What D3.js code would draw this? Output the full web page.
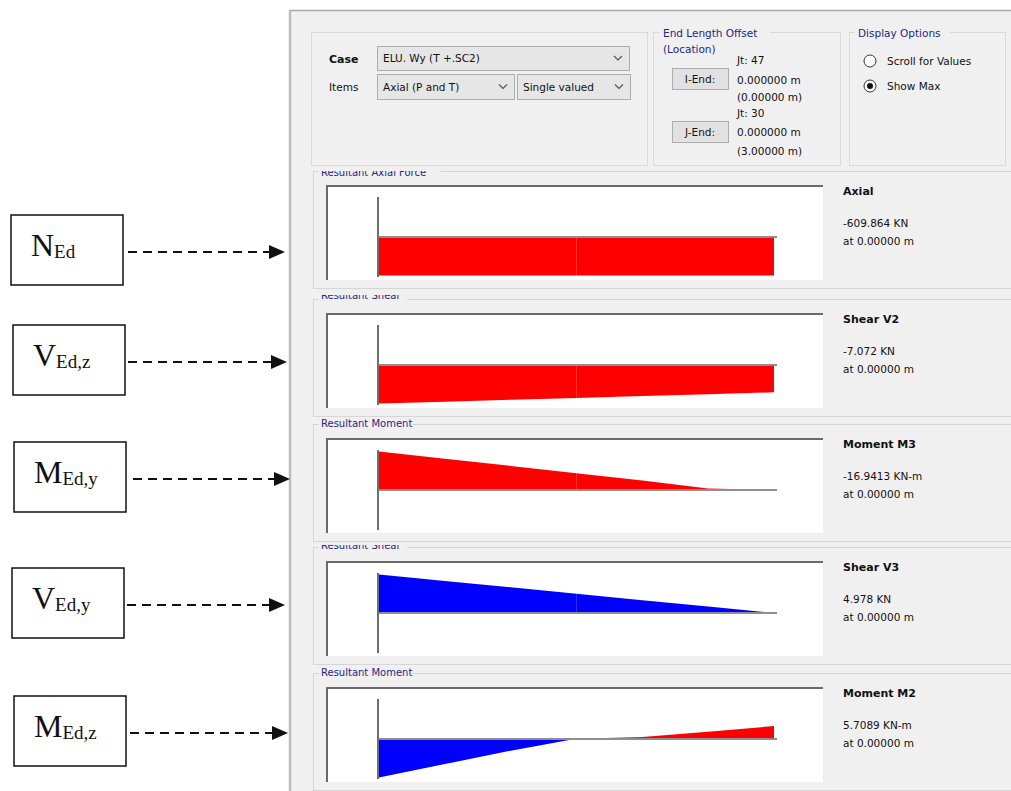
<!DOCTYPE html>
<html><head><meta charset="utf-8">
<script src="https://cdn.jsdelivr.net/npm/d3@7"></script>
<style>body{margin:0;background:#fff}svg{display:block}</style>
</head><body>
<svg id="c" width="1011" height="791"></svg>
<script>
// ---------- data ----------
const stations = [0, 0.5, 1, 1.5, 2, 2.5, 3]; // m along the member
const axialP   = [-609.864, -609.864, -609.864, -609.864, -609.864, -609.864, -609.864];
const shearV2  = [-7.072, -6.73, -6.39, -6.05, -5.70, -5.36, -5.02];
const momentM3 = [-16.9413, -13.8, -10.6, -7.4, -4.2, -0.7, 0];
const shearV3  = [4.978, 4.15, 3.32, 2.49, 1.66, 0.83, 0];
const momentM2 = [5.7089, 3.72, 1.73, -0.05, -0.30, -1.08, -1.92];
const panelTitles = ["Resultant Axial Force", "Resultant Shear", "Resultant Moment", "Resultant Shear", "Resultant Moment"];
const resultNames = ["Axial", "Shear V2", "Moment M3", "Shear V3", "Moment M2"];
const resultValues = ["-609.864 KN", "-7.072 KN", "-16.9413 KN-m", "4.978 KN", "5.7089 KN-m"];
const resultLocations = ["at 0.00000 m", "at 0.00000 m", "at 0.00000 m", "at 0.00000 m", "at 0.00000 m"];
const labelMain = ["N", "V", "M", "V", "M"];
const labelSub = ["Ed", "Ed,z", "Ed,y", "Ed,y", "Ed,z"];
const series = [axialP, shearV2, momentM3, shearV3, momentM2];

// ---------- layout ----------
const svg = d3.select("#c");
const UI = "'DejaVu Sans', sans-serif";
const NAVY = "#25258a";
const boxTops = [185, 313, 438, 561, 687];
const titleBase = [176, 299, 427, 549, 676];
const titleClip = [171, 295, null, 545, null];
const boxH = 95, boxX = 326, boxW = 497;
const baseOff = 52;
const plotDir = [-1, -1, 1, -1, 1]; // moments drawn on tension side
const xScale = d3.scaleLinear().domain([0, 3]).range([379, 774]);

// window background
svg.append("rect").attr("x", 289).attr("y", 10).attr("width", 722).attr("height", 781).attr("fill", "#f0f0f0");
svg.append("line").attr("x1", 289).attr("x2", 1011).attr("y1", 10.5).attr("y2", 10.5).attr("stroke", "#a8a8a8").attr("stroke-width", 1.5);
svg.append("line").attr("x1", 290).attr("x2", 290).attr("y1", 10).attr("y2", 791).attr("stroke", "#bdbdbd").attr("stroke-width", 2.5);

// top group boxes
function groupBox(x, y, w, h) {
  svg.append("rect").attr("x", x + 0.5).attr("y", y + 0.5).attr("width", w).attr("height", h)
    .attr("fill", "none").attr("stroke", "#d9d9d9");
}
groupBox(311, 32, 336, 133);
groupBox(653, 32, 187, 133);
groupBox(849, 32, 156, 133);

function txt(x, y, s, opt = {}) {
  return svg.append("text").attr("x", x).attr("y", y).text(s)
    .attr("font-family", opt.family || UI).attr("font-size", opt.size || 11)
    .attr("font-weight", opt.weight || "normal").attr("fill", opt.fill || "#111")
    .attr("text-anchor", opt.anchor || "start");
}
function chevron(cx, cy) {
  svg.append("path").attr("d", `M${cx - 4},${cy - 2} L${cx},${cy + 2} L${cx + 4},${cy - 2}`)
    .attr("fill", "none").attr("stroke", "#555").attr("stroke-width", 1.2);
}
function dropdown(x, y, w, h, s) {
  svg.append("rect").attr("x", x + 0.5).attr("y", y + 0.5).attr("width", w).attr("height", h)
    .attr("fill", "#e6e6e6").attr("stroke", "#adadad");
  txt(x + 6, y + h / 2 + 4, s, {size: 10.5});
  chevron(x + w - 11, y + h / 2);
}
txt(329, 63, "Case", {weight: "bold", size: 11});
txt(329, 91, "Items", {size: 10.5});
dropdown(377, 46, 252, 24, "ELU. Wy (T +.SC2)");
dropdown(377, 74, 137, 25, "Axial (P and T)");
dropdown(517, 74, 113, 25, "Single valued");

// End length offset group
svg.append("rect").attr("x", 660).attr("y", 26).attr("width", 110).attr("height", 12).attr("fill", "#f0f0f0");
txt(663, 37, "End Length Offset", {fill: NAVY, size: 10.5});
txt(663, 53, "(Location)", {fill: NAVY, size: 10.5});
txt(737, 64, "Jt:  47", {size: 10.5});
function button(x, y, s) {
  svg.append("rect").attr("x", x + 0.5).attr("y", y + 0.5).attr("width", 56).attr("height", 21)
    .attr("fill", "#e1e1e1").attr("stroke", "#adadad");
  txt(x + 28, y + 15, s, {anchor: "middle", size: 10.5});
}
button(672, 68, "I-End:");
txt(737, 84, "0.000000 m", {size: 10.5});
txt(737, 101, "(0.00000 m)", {size: 10.5});
txt(737, 117, "Jt:  30", {size: 10.5});
button(672, 121, "J-End:");
txt(737, 136, "0.000000 m", {size: 10.5});
txt(737, 155, "(3.00000 m)", {size: 10.5});

// Display options
svg.append("rect").attr("x", 855).attr("y", 26).attr("width", 95).attr("height", 12).attr("fill", "#f0f0f0");
txt(858, 37, "Display Options", {fill: NAVY, size: 10.5});
svg.append("circle").attr("cx", 870).attr("cy", 61).attr("r", 6).attr("fill", "#fff").attr("stroke", "#333");
svg.append("circle").attr("cx", 870).attr("cy", 86).attr("r", 6).attr("fill", "#fff").attr("stroke", "#333");
svg.append("circle").attr("cx", 870).attr("cy", 86).attr("r", 3).attr("fill", "#111");
txt(887, 65, "Scroll for Values", {size: 10.5});
txt(887, 90, "Show Max", {size: 10.5});

// ---------- diagram panels ----------
const defs = svg.append("defs");
series.forEach((vals, i) => {
  const top = boxTops[i];
  const base = top + baseOff;
  const maxAbs = d3.max(vals, v => Math.abs(v));
  const depth = d3.scaleLinear().domain([0, maxAbs]).range([0, 38.5]);
  const yOf = v => base + plotDir[i] * (v >= 0 ? depth(v) : -depth(-v));

  // panel group box
  svg.append("rect").attr("x", 313.5).attr("y", top - 13.5).attr("width", 720).attr("height", boxH + 22)
    .attr("fill", "#f0f0f0").attr("stroke", "#d6d6d6");
  // title
  const tb = titleBase[i];
  const g = svg.append("g");
  if (titleClip[i] !== null) {
    defs.append("clipPath").attr("id", "tc" + i).append("rect")
      .attr("x", 300).attr("y", titleClip[i]).attr("width", 300).attr("height", 20);
    g.attr("clip-path", `url(#tc${i})`);
  }
  g.append("rect").attr("x", 319).attr("y", tb - 9).attr("width", panelTitles[i].length * 5.6 + 4).attr("height", 11).attr("fill", "#f0f0f0");
  g.append("text").attr("x", 321).attr("y", tb).text(panelTitles[i])
    .attr("font-family", UI).attr("font-size", 10).attr("fill", NAVY);

  // plot box (sunken)
  svg.append("rect").attr("x", boxX).attr("y", top).attr("width", boxW).attr("height", boxH).attr("fill", "#fff");
  svg.append("line").attr("x1", boxX).attr("x2", boxX + boxW).attr("y1", top + 1).attr("y2", top + 1)
    .attr("stroke", "#6a6a6a").attr("stroke-width", 2);
  svg.append("line").attr("x1", boxX + 1).attr("x2", boxX + 1).attr("y1", top).attr("y2", top + boxH)
    .attr("stroke", "#6a6a6a").attr("stroke-width", 2);

  // insert zero crossings so positive / negative parts split exactly
  const pts = [];
  for (let k = 0; k < stations.length; k++) {
    pts.push([stations[k], vals[k]]);
    if (k < stations.length - 1) {
      const a = vals[k], b = vals[k + 1];
      if (a * b < 0) {
        const t = a / (a - b);
        pts.push([stations[k] + t * (stations[k + 1] - stations[k]), 0]);
      }
    }
  }
  const area = d3.area().x(d => xScale(d[0])).y0(base).y1(d => yOf(d[1]));
  svg.append("path").datum(pts.map(d => [d[0], Math.min(d[1], 0)])).attr("d", area).attr("fill", "#ff0000");
  svg.append("path").datum(pts.map(d => [d[0], Math.max(d[1], 0)])).attr("d", area).attr("fill", "#0000ff");
  // station divider at mid-span
  const mid = stations.indexOf(1.5);
  svg.append("line").attr("x1", xScale(1.5)).attr("x2", xScale(1.5)).attr("y1", base).attr("y2", yOf(vals[mid]))
    .attr("stroke", "rgba(255,255,255,0.18)").attr("stroke-width", 1);

  // member axis + base line
  svg.append("line").attr("x1", 378).attr("x2", 378).attr("y1", top + 12).attr("y2", top + boxH - 3)
    .attr("stroke", "#6e6e6e").attr("stroke-width", 2);
  svg.append("line").attr("x1", 379).attr("x2", 777).attr("y1", base).attr("y2", base)
    .attr("stroke", "#8e8e8e").attr("stroke-width", 2);

  // results text
  txt(843, top + 10, resultNames[i], {weight: "bold", size: 11});
  txt(843, top + 42, resultValues[i], {size: 10.5});
  txt(843, top + 60, resultLocations[i], {size: 10.5});
});

// ---------- left annotations ----------
const labelBoxes = [[11, 215], [13, 325], [14, 442], [12, 568], [14, 696]];
const arrowX = [[128, 285], [128, 287], [133, 290], [127, 285], [130, 288]];
labelMain.forEach((m, i) => {
  const [bx, by] = labelBoxes[i];
  svg.append("rect").attr("x", bx).attr("y", by).attr("width", 112).attr("height", 70)
    .attr("fill", "#fff").attr("stroke", "#111").attr("stroke-width", 1.5);
  const t = svg.append("text").attr("x", bx + 20).attr("y", by + 41)
    .attr("font-family", "'Liberation Serif', serif").attr("fill", "#111");
  t.append("tspan").attr("font-size", 32).text(m);
  t.append("tspan").attr("font-size", 19).attr("dy", 2).text(labelSub[i]);
  const ay = by + 37;
  const [x1, x2] = arrowX[i];
  svg.append("line").attr("x1", x1).attr("x2", x2 - 14).attr("y1", ay).attr("y2", ay)
    .attr("stroke", "#111").attr("stroke-width", 2).attr("stroke-dasharray", "9,6");
  svg.append("path").attr("d", `M${x2 - 16},${ay - 7} L${x2},${ay} L${x2 - 16},${ay + 7} Z`).attr("fill", "#111");
});
</script>
</body></html>
